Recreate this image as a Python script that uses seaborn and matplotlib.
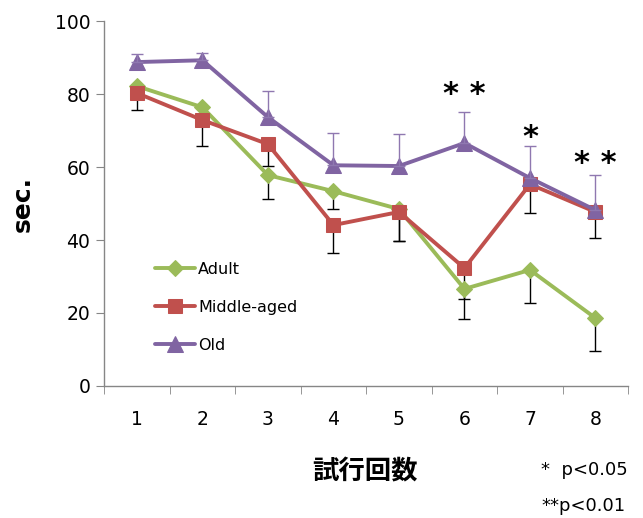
import numpy as np
import pandas as pd
import matplotlib
matplotlib.use('Agg')
import matplotlib.pyplot as plt
import seaborn as sns

# values
trials = [1, 2, 3, 4, 5, 6, 7, 8]
adult = [82.2, 76.4, 57.8, 53.4, 48.5, 26.6, 31.8, 18.6]
middle = [80.3, 72.9, 66.3, 44.1, 47.7, 32.3, 55.3, 47.7]
old = [88.8, 89.3, 73.7, 60.5, 60.3, 66.6, 57.0, 48.2]
# one-sided error bars (down for Adult / Middle-aged, up for Old)
adult_err = [3.0, 3.0, 6.6, 5.0, 8.7, 8.2, 9.1, 9.0]
middle_err = [4.6, 7.1, 6.0, 7.6, 8.0, 8.5, 7.9, 7.2]
old_err = [2.2, 2.0, 7.1, 8.9, 8.7, 8.5, 8.8, 9.6]
groups = ['Adult', 'Middle-aged', 'Old']
colors = {'Adult': '#9BBB59', 'Middle-aged': '#C0504D', 'Old': '#8064A2'}
marks = {'Adult': 'D', 'Middle-aged': 's', 'Old': '^'}
msizes = {'Adult': 8.5, 'Middle-aged': 10.5, 'Old': 11}
stars = {6: '* *', 7: '*', 8: '* *'}
star_y = {6: 80.0, 7: 68.0, 8: 61.0}

df = pd.DataFrame({
    'trial': trials * 3,
    'sec': adult + middle + old,
    'group': [g for g in groups for _ in trials],
})

sns.set_style('white')
plt.rcParams['font.family'] = ['DejaVu Sans', 'Noto Sans CJK JP']
plt.rcParams['text.color'] = 'black'
plt.rcParams['xtick.color'] = 'black'
plt.rcParams['ytick.color'] = 'black'
plt.rcParams['axes.labelcolor'] = 'black'

fig = plt.figure(figsize=(6.43, 5.18), dpi=100)
ax = fig.add_axes([0.162, 0.255, 0.815, 0.704])

# error bars
zeros = np.zeros(len(trials))
ax.errorbar(trials, adult, yerr=[adult_err, zeros], fmt='none', ecolor='black',
            elinewidth=1, capsize=4, capthick=1, zorder=1)
ax.errorbar(trials, middle, yerr=[middle_err, zeros], fmt='none', ecolor='black',
            elinewidth=1, capsize=4, capthick=1, zorder=1)
ax.errorbar(trials, old, yerr=[zeros, old_err], fmt='none', ecolor='#8F78B0',
            elinewidth=1, capsize=4, capthick=1, zorder=4)

n_before = len(ax.lines)
sns.lineplot(data=df, x='trial', y='sec', hue='group', style='group',
             palette=colors, markers=marks, dashes=False, linewidth=2.8,
             ax=ax, zorder=3)
for line, g in zip(ax.lines[n_before:], groups):
    line.set_markersize(msizes[g])
    line.set_markeredgecolor(colors[g])

handles, labels = ax.get_legend_handles_labels()
for h, g in zip(handles, labels):
    h.set_markersize(msizes[g])
    h.set_markeredgecolor(colors[g])

ax.set_xlim(0.5, 8.5)
ax.set_ylim(0, 100)
ax.set_yticks(range(0, 101, 20))
ax.set_xticks(trials)
ax.set_xticks(np.arange(0.5, 8.6, 1), minor=True)
ax.tick_params(axis='x', which='major', length=0, labelsize=13.5, pad=17)
ax.tick_params(axis='x', which='minor', length=6, color='#868686', direction='out', bottom=True)
ax.tick_params(axis='y', length=6, color='#868686', labelcolor='black', direction='out', left=True,
               labelsize=13.5, pad=4)
for s in ['top', 'right']:
    ax.spines[s].set_visible(False)
for s in ['left', 'bottom']:
    ax.spines[s].set_color('#868686')
    ax.spines[s].set_linewidth(1)

ax.set_xlabel('')
ax.set_ylabel('sec.', fontsize=18, fontweight='bold', labelpad=14)

for x, s in stars.items():
    ax.text(x, star_y[x], s, ha='center', va='center', fontsize=22, fontweight='bold')

ax.legend(handles, labels, loc='upper left', bbox_to_anchor=(0.07, 0.38),
          frameon=False, handlelength=2.5, handletextpad=0.2, labelspacing=1.45,
          fontsize=11.5)

fig.text(0.567, 0.088, '試行回数', ha='center', va='center', fontsize=19,
         fontweight='bold', family=['Noto Sans CJK JP'])
fig.text(0.842, 0.092, '*  p<0.05', ha='left', va='center', fontsize=13)
fig.text(0.842, 0.024, '**p<0.01', ha='left', va='center', fontsize=13)

fig.savefig('out.png', dpi=100)
